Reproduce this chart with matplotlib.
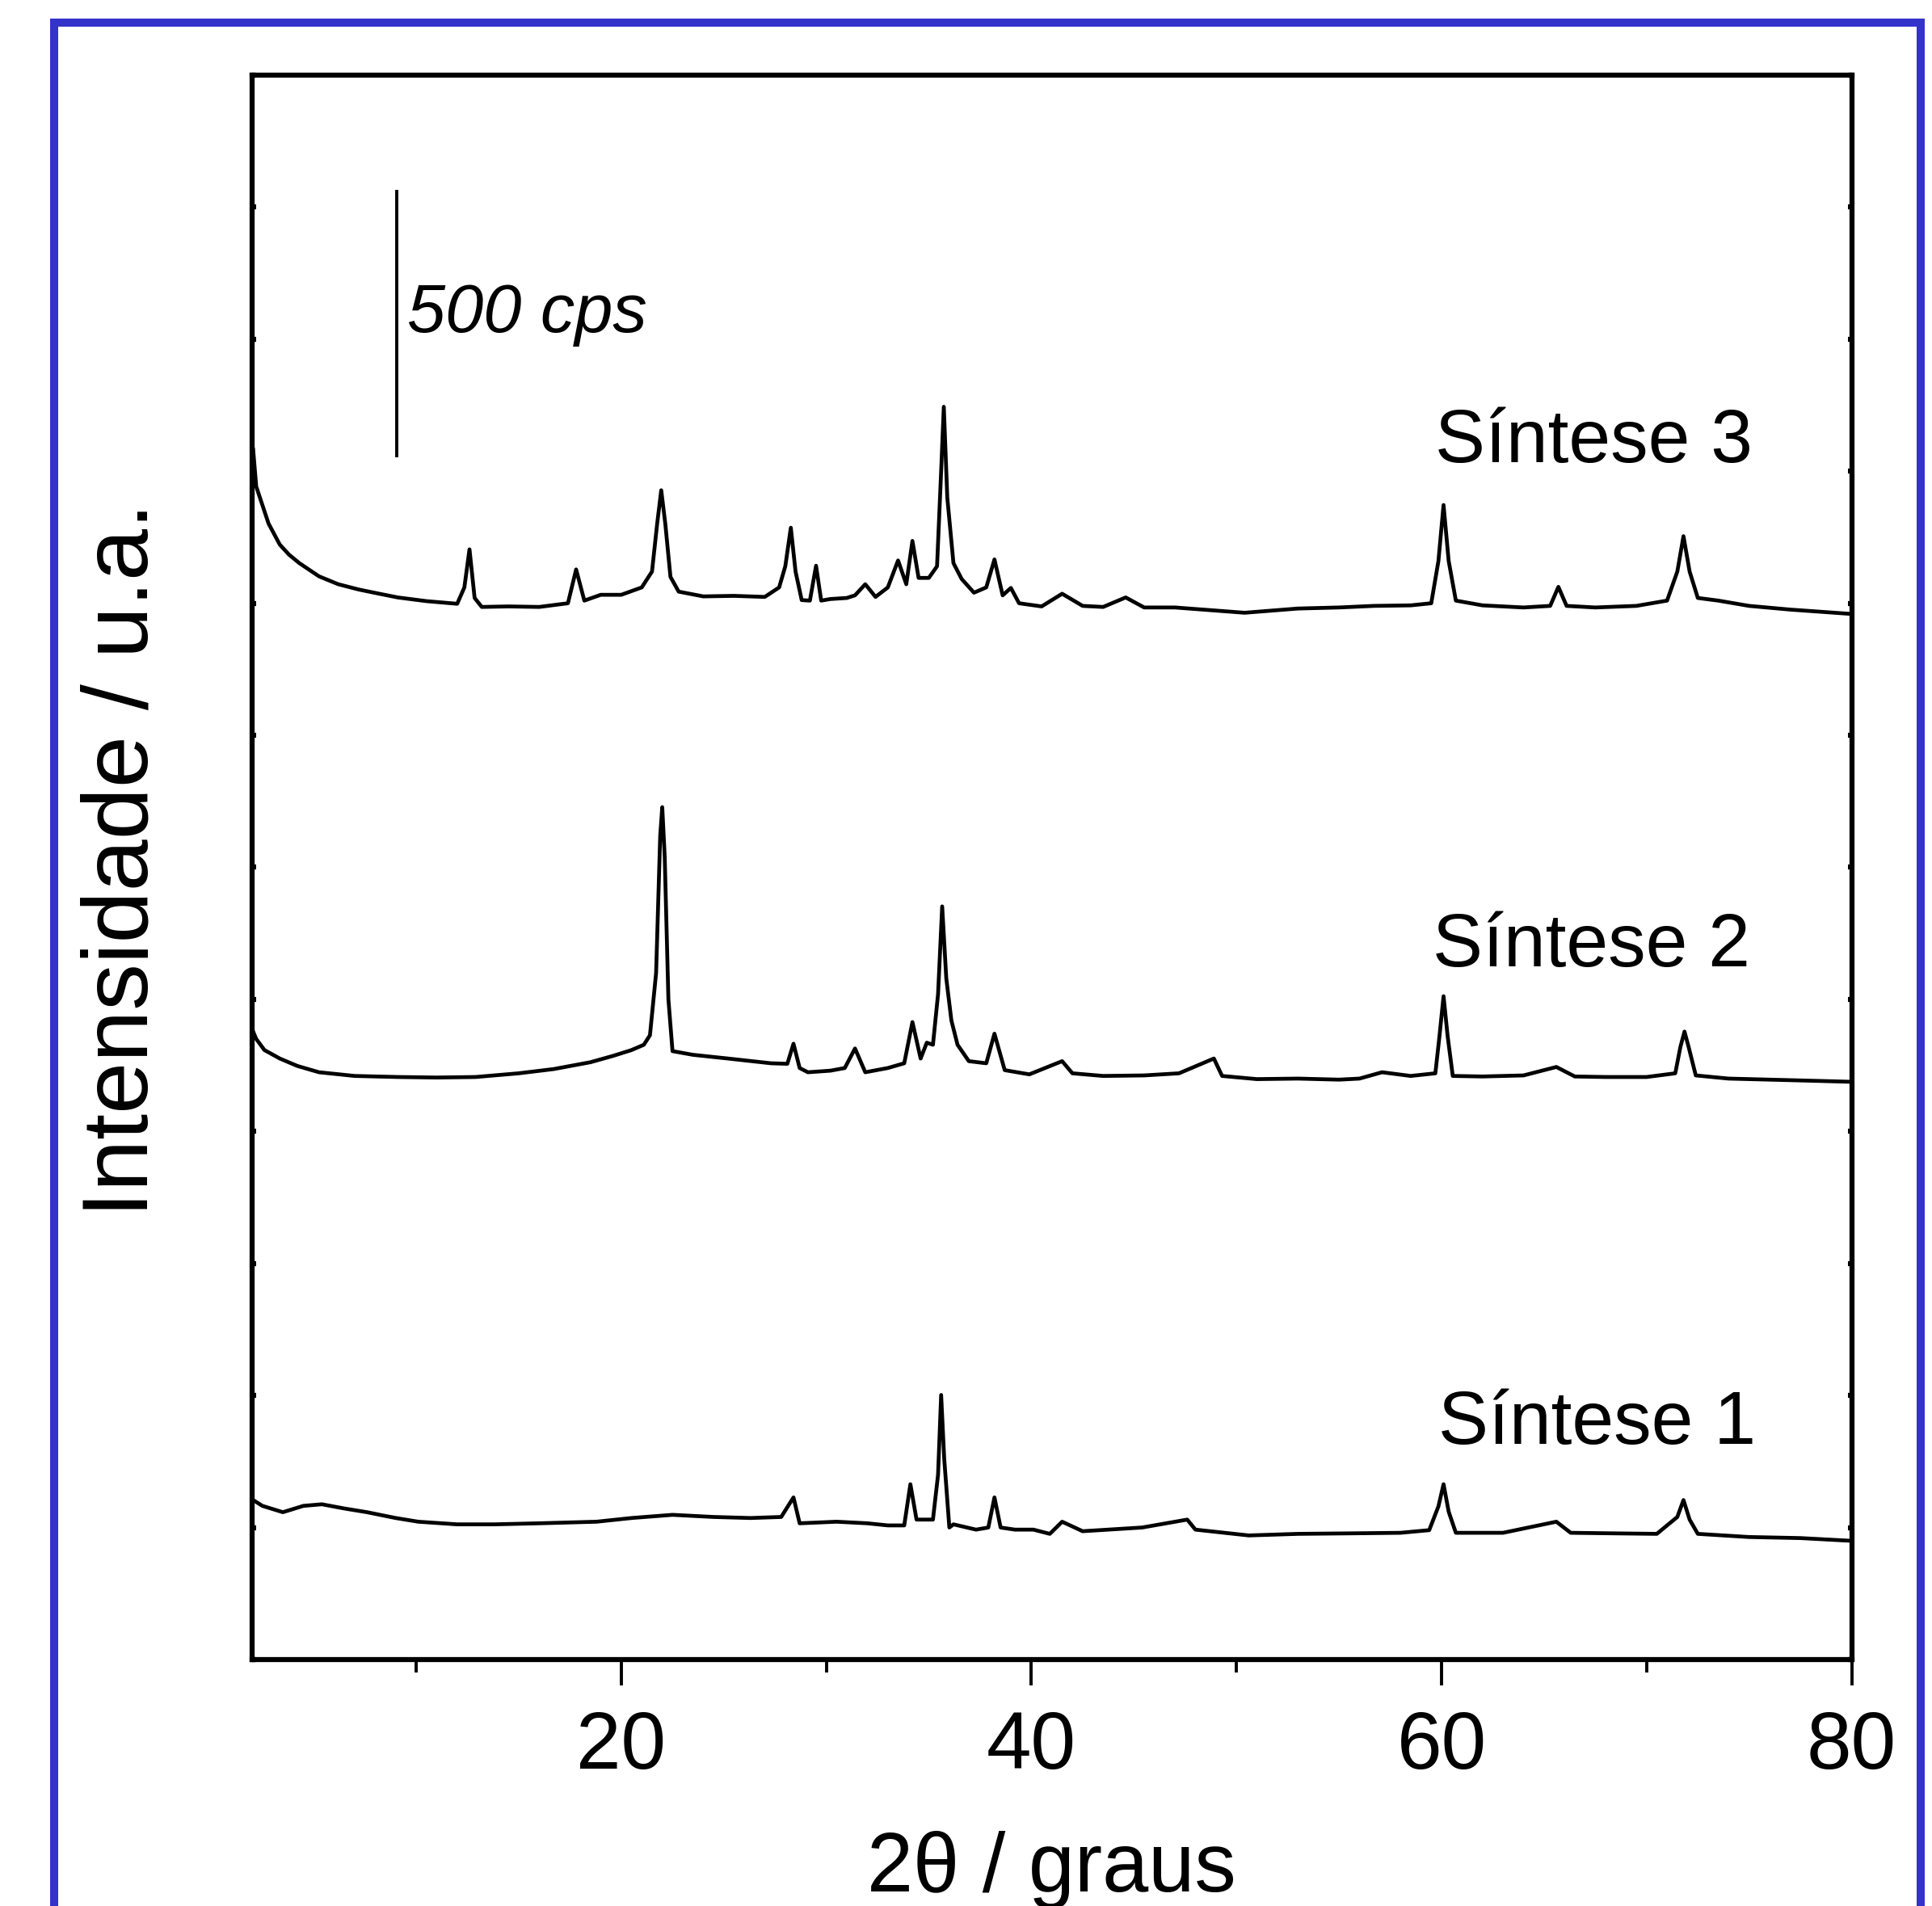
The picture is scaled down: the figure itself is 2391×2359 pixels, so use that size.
import matplotlib as mpl
mpl.use('Agg')
import matplotlib.pyplot as plt
from matplotlib.lines import Line2D

plt.rcParams['font.family'] = ['Liberation Sans', 'DejaVu Sans']

sintese3 = [
    (2.05, 2291), (2.2, 2221), (2.5, 2186), (2.8, 2151), (3.35, 2111), (3.8, 2092), (4.3, 2076),
    (5.26, 2051), (6.2, 2036), (7.2, 2026), (8.2, 2018), (9.1, 2011), (10.5, 2004), (12.0, 1999),
    (12.35, 2030), (12.6, 2102), (12.85, 2010), (13.2, 1993), (14.5, 1994), (16.0, 1993), (17.4, 2000),
    (17.8, 2064), (18.2, 2005), (19.0, 2016), (20.0, 2016), (21.0, 2030), (21.5, 2060), (21.75, 2150),
    (21.95, 2214), (22.15, 2150), (22.4, 2050), (22.8, 2022), (24.0, 2013), (25.5, 2014), (27.0, 2012),
    (27.7, 2030), (28.0, 2070), (28.27, 2143), (28.5, 2060), (28.8, 2006), (29.2, 2005), (29.5, 2071),
    (29.75, 2005), (30.2, 2008), (31.0, 2010), (31.4, 2015), (31.9, 2036), (32.4, 2012), (33.0, 2030),
    (33.5, 2081), (33.9, 2036), (34.2, 2118), (34.5, 2048), (35.0, 2048), (35.4, 2070), (35.6, 2250),
    (35.73, 2372), (35.9, 2200), (36.2, 2076), (36.6, 2046), (37.2, 2020), (37.8, 2030), (38.2, 2083),
    (38.6, 2015), (39.0, 2029), (39.4, 2000), (40.5, 1994), (41.5, 2018), (42.5, 1995), (43.5, 1993),
    (44.6, 2011), (45.5, 1992), (47.0, 1992), (50.4, 1982), (53.0, 1990), (55.0, 1992), (56.7, 1995),
    (58.5, 1996), (59.5, 2000), (59.85, 2080), (60.1, 2186), (60.35, 2080), (60.7, 2005), (62.0, 1996),
    (64.0, 1992), (65.3, 1995), (65.7, 2031), (66.1, 1995), (67.5, 1992), (69.5, 1995), (71.0, 2005),
    (71.5, 2060), (71.8, 2127), (72.1, 2060), (72.5, 2010), (73.5, 2005), (75.0, 1995), (77.0, 1988),
    (79.9, 1980),
]

sintese2 = [
    (2.05, 1189), (2.2, 1175), (2.6, 1154), (3.35, 1138), (4.2, 1124), (5.26, 1112), (7.0, 1105),
    (9.1, 1103), (11.0, 1102), (12.9, 1103), (15.0, 1110), (16.7, 1118), (18.5, 1131), (19.6, 1143),
    (20.5, 1154), (21.1, 1164), (21.4, 1182), (21.7, 1300), (21.9, 1560), (22.0, 1614), (22.12, 1520),
    (22.3, 1250), (22.5, 1152), (23.5, 1145), (25.2, 1138), (27.3, 1129), (28.1, 1128), (28.4, 1166),
    (28.7, 1120), (29.1, 1112), (30.2, 1115), (30.9, 1120), (31.4, 1157), (31.9, 1112), (33.0, 1120),
    (33.8, 1129), (34.2, 1207), (34.6, 1138), (34.9, 1168), (35.2, 1164), (35.45, 1260), (35.65, 1426),
    (35.85, 1290), (36.1, 1210), (36.4, 1164), (36.95, 1133), (37.8, 1129), (38.2, 1185), (38.7, 1116),
    (39.9, 1108), (41.5, 1133), (42.0, 1110), (43.5, 1105), (45.5, 1106), (47.2, 1110), (48.9, 1138),
    (49.3, 1105), (51.0, 1099), (53.0, 1100), (55.0, 1098), (56.0, 1100), (57.1, 1112), (58.5, 1105),
    (59.7, 1110), (59.9, 1180), (60.1, 1256), (60.3, 1180), (60.55, 1105), (62.0, 1104), (64.0, 1106),
    (65.6, 1122), (66.5, 1104), (68.0, 1103), (70.0, 1103), (71.4, 1110), (71.65, 1160), (71.85, 1189),
    (72.05, 1160), (72.4, 1106), (74.0, 1100), (76.0, 1098), (78.0, 1096), (79.9, 1094),
]

sintese1 = [
    (2.05, 302), (2.5, 291), (3.5, 279), (4.5, 291), (5.4, 294), (6.5, 286), (7.6, 279), (9.0, 268),
    (10.1, 261), (12.0, 256), (13.8, 256), (16.0, 258), (18.8, 261), (20.5, 268), (22.5, 274),
    (24.5, 270), (26.3, 268), (27.8, 270), (28.4, 307), (28.7, 258), (30.5, 261), (32.0, 258),
    (33.0, 254), (33.8, 254), (34.1, 332), (34.4, 265), (35.2, 265), (35.45, 350), (35.6, 501),
    (35.75, 380), (36.0, 250), (36.2, 256), (37.3, 246), (37.9, 250), (38.2, 307), (38.5, 250),
    (39.2, 246), (40.1, 246), (40.9, 238), (41.5, 261), (42.5, 243), (45.4, 250), (47.6, 265),
    (48.0, 246), (50.6, 235), (53.0, 238), (55.7, 239), (58.0, 240), (59.4, 245), (59.85, 290),
    (60.1, 332), (60.35, 280), (60.7, 240), (63.0, 240), (65.6, 261), (66.3, 240), (68.3, 239),
    (70.5, 238), (71.5, 270), (71.8, 302), (72.1, 265), (72.5, 238), (75.0, 232), (77.5, 230),
    (79.9, 225),
]

nomes = ['Síntese 3', 'Síntese 2', 'Síntese 1']
pos_nomes = [(59.7, 2267), (59.55, 1312), (59.85, 408)]

fig = plt.figure(figsize=(23.91, 23.59), dpi=100)
ax = fig.add_axes([0.1305, 0.1293, 0.8279, 0.8313])

for serie in (sintese3, sintese2, sintese1):
    x, y = zip(*serie)
    ax.plot(x, y, color='black', linewidth=3.4)

for nome, (tx, ty) in zip(nomes, pos_nomes):
    ax.text(tx, ty, nome, fontsize=67, ha='left', va='baseline')

# barra de escala
ax.plot([9.05, 9.05], [2280, 2780], color='black', linewidth=2.8)
ax.text(9.55, 2514, '500 cps', fontsize=61, style='italic', ha='left', va='baseline')

ax.set_xlim(2, 80)
ax.set_ylim(0, 3000)
ax.set_xticks([20, 40, 60, 80])
ax.set_xticks([10, 30, 50, 70], minor=True)
ax.set_yticks(range(0, 3001, 250))
ax.set_yticklabels([])
ax.tick_params(axis='x', which='major', direction='out', length=23, width=2.8,
               labelsize=72, pad=22)
ax.tick_params(axis='x', which='minor', direction='out', length=11.5, width=2.8)
ax.tick_params(axis='y', direction='in', length=3.5, width=4.5, left=True, right=True)

for s in ax.spines.values():
    s.set_linewidth(4.5)

ax.set_xlabel('2θ / graus', fontsize=74, va='baseline')
ax.xaxis.set_label_coords(0.5, -0.1464)
ax.set_ylabel('Intensidade / u.a.', fontsize=83, va='center', ha='center')
ax.yaxis.set_label_coords(-0.0803, 0.505)

# moldura azul
fig.add_artist(Line2D([0.02802, 0.02802, 0.99414, 0.99414], [-0.05, 0.98813, 0.98813, -0.05],
                      transform=fig.transFigure, color='#3333cc', linewidth=7.2,
                      solid_joinstyle='miter'))

plt.savefig('out.png', dpi=100)
